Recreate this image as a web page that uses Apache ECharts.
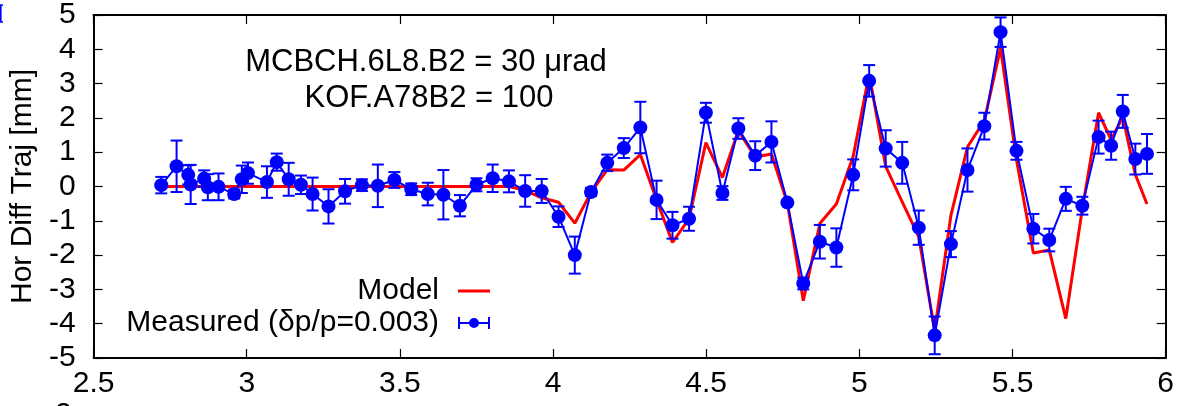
<!DOCTYPE html>
<html>
<head>
<meta charset="utf-8">
<script src="https://cdn.jsdelivr.net/npm/echarts@6/dist/echarts.min.js"></script>
<style>
html,body{margin:0;padding:0;background:#fff;}
#chart{width:1177px;height:406px;}
</style>
</head>
<body>
<div id="chart"></div>
<script>
// Positions along the line (x) in km
const posX = [2.721, 2.771, 2.809, 2.817, 2.861, 2.873, 2.908, 2.959, 2.984, 3.004,
  3.066, 3.098, 3.137, 3.177, 3.215, 3.267, 3.321, 3.376, 3.428, 3.482,
  3.537, 3.591, 3.642, 3.696, 3.750, 3.803, 3.856, 3.909, 3.963,
  4.018, 4.071, 4.124, 4.177, 4.231, 4.285, 4.338, 4.390, 4.444, 4.499, 4.553, 4.605, 4.660, 4.713, 4.765,
  4.817, 4.871, 4.925, 4.980, 5.032, 5.086, 5.140, 5.194, 5.246, 5.299, 5.353, 5.408, 5.461, 5.513,
  5.568, 5.620, 5.674, 5.728, 5.781, 5.822, 5.860, 5.901, 5.939];
// Measured horizontal difference trajectory [mm]
const measuredY = [0.04, 0.59, 0.34, 0.06, 0.23, -0.02, -0.01, -0.22, 0.21, 0.39,
  0.13, 0.71, 0.21, 0.05, -0.22, -0.58, -0.14, 0.04, 0.02, 0.19,
  -0.08, -0.22, -0.24, -0.56, 0.05, 0.24, 0.15, -0.13, -0.13,
  -0.88, -2.0, -0.16, 0.69, 1.12, 1.72, -0.39, -1.13, -0.94, 2.15, -0.19, 1.69, 0.9, 1.30, -0.47,
  -2.83, -1.61, -1.78, 0.34, 3.08, 1.11, 0.69, -1.2, -4.34, -1.68, 0.48, 1.76, 4.5, 1.04,
  -1.23, -1.56, -0.36, -0.56, 1.44, 1.19, 2.19, 0.80, 0.95];
// Measurement errors [mm]
const measuredErr = [0.24, 0.75, 0.28, 0.57, 0.24, 0.38, 0.39, 0.13, 0.4, 0.31,
  0.46, 0.25, 0.48, 0.27, 0.48, 0.5, 0.36, 0.17, 0.62, 0.23,
  0.17, 0.33, 0.72, 0.31, 0.19, 0.4, 0.32, 0.46, 0.35,
  0.3, 0.54, 0.12, 0.24, 0.29, 0.75, 0.56, 0.39, 0.35, 0.29, 0.2, 0.3, 0.42, 0.6, 0.06,
  0.17, 0.49, 0.56, 0.45, 0.46, 0.53, 0.61, 0.5, 0.55, 0.38, 0.63, 0.39, 0.43, 0.26,
  0.43, 0.33, 0.35, 0.26, 0.48, 0.41, 0.48, 0.45, 0.58];
// Model prediction [mm]
const modelY = [0, 0, 0, 0, 0, 0, 0, 0, 0, 0,
  0, 0, 0, 0, 0, 0, 0, 0, 0, 0,
  0, 0, 0, 0, 0, 0, 0, -0.11, -0.33,
  -0.46, -1.07, -0.17, 0.49, 0.48, 0.93, -0.39, -1.63, -0.94, 1.28, 0.26, 1.63, 0.86, 0.95, -0.48,
  -3.33, -1.08, -0.51, 0.88, 3.28, 0.59, -0.45, -1.47, -4.2, -0.84, 1.15, 1.92, 4.04, 0.78,
  -1.94, -1.85, -3.85, -0.65, 2.15, 1.36, 2.03, 0.35, -0.51];

const seriesNames = ['Model', 'Measured (\u03b4p/p=0.003)'];
const annotations = ['MCBCH.6L8.B2 = 30 \u03bcrad', 'KOF.A78B2 = 100'];
const yAxisName = 'Hor Diff Traj [mm]';

const FONT = 'Liberation Sans';
const FS = 30;
const BLUE = '#0000ff';
const RED = '#ff0000';

const chart = echarts.init(document.getElementById('chart'));

const modelData = posX.map((x, i) => [x, modelY[i]]);
const measData = posX.map((x, i) => [x, measuredY[i]]);
const errData = posX.map((x, i) => [x, measuredY[i] - measuredErr[i], measuredY[i] + measuredErr[i]]);

const axisLine = {show: true, onZero: false, lineStyle: {color: '#000', width: 2}};
const tick = {show: true, inside: true, length: 9, lineStyle: {color: '#000', width: 1.2}};
const lbl = {color: '#000', fontFamily: FONT, fontSize: FS};

chart.setOption({
  animation: false,
  backgroundColor: '#fff',
  grid: {left: 91, right: 9, top: 10, bottom: 48},
  xAxis: [
    {type: 'value', min: 2.5, max: 6, interval: 0.5, position: 'bottom',
     axisLine, axisTick: tick, splitLine: {show: false},
     axisLabel: Object.assign({margin: 11}, lbl)},
    {type: 'value', min: 2.5, max: 6, interval: 0.5, position: 'top',
     axisLine, axisTick: tick, splitLine: {show: false}, axisLabel: {show: false}}
  ],
  yAxis: [
    {type: 'value', min: -5, max: 5, interval: 1, position: 'left',
     axisLine, axisTick: tick, splitLine: {show: false},
     axisLabel: Object.assign({margin: 18}, lbl),
     name: yAxisName, nameLocation: 'middle', nameGap: 48, nameRotate: 90,
     nameTextStyle: {color: '#000', fontFamily: FONT, fontSize: FS}},
    {type: 'value', min: -5, max: 5, interval: 1, position: 'right',
     axisLine, axisTick: tick, splitLine: {show: false}, axisLabel: {show: false}}
  ],
  legend: {
    orient: 'vertical', align: 'right', right: 682, top: 271,
    itemGap: 2, itemWidth: 32, itemHeight: 12,
    textStyle: {color: '#000', fontFamily: FONT, fontSize: FS, padding: [0, 14, 0, 0]},
    data: [
      {name: seriesNames[0], icon: 'path://M0,4.5H32V7.5H0Z'},
      {name: seriesNames[1], icon: 'path://M0,0H2V5H30V0H32V12H30V7H2V12H0Z M16,1A5,5 0 1,1 16,11A5,5 0 1,1 16,1Z'}
    ]
  },
  graphic: [
    {type: 'text', x: 426, y: 62, z: 10,
     style: {text: annotations[0], font: '31px "Liberation Sans"', fill: '#000',
             textAlign: 'center', textVerticalAlign: 'middle'}},
    {type: 'text', x: 429, y: 98, z: 10,
     style: {text: annotations[1], font: '31px "Liberation Sans"', fill: '#000',
             textAlign: 'center', textVerticalAlign: 'middle'}},
    {type: 'polyline', z: 10, shape: {points: [[3, 5], [0.8, 5], [0.8, 22], [3, 22]]},
     style: {stroke: BLUE, lineWidth: 1.6, fill: null}},
    {type: 'text', x: 55, y: 400, z: 10,
     style: {text: '2', font: '30px "Liberation Sans"', fill: '#000'}}
  ],
  series: [
    {name: seriesNames[0], type: 'line', data: modelData, symbol: 'none',
     lineStyle: {color: RED, width: 3}, itemStyle: {color: RED}, z: 2},
    {name: seriesNames[1], type: 'custom', data: errData, z: 3,
     itemStyle: {color: BLUE},
     renderItem: function (params, api) {
       const x = api.value(0);
       const lo = api.coord([x, api.value(1)]);
       const hi = api.coord([x, api.value(2)]);
       const c = 6;
       const st = {stroke: BLUE, lineWidth: 2, fill: null};
       return {type: 'group', children: [
         {type: 'line', shape: {x1: lo[0], y1: lo[1], x2: hi[0], y2: hi[1]}, style: st},
         {type: 'line', shape: {x1: lo[0] - c, y1: lo[1], x2: lo[0] + c, y2: lo[1]}, style: st},
         {type: 'line', shape: {x1: hi[0] - c, y1: hi[1], x2: hi[0] + c, y2: hi[1]}, style: st}
       ]};
     }},
    {name: seriesNames[1], type: 'line', data: measData, symbol: 'circle', symbolSize: 14,
     lineStyle: {color: BLUE, width: 2}, itemStyle: {color: BLUE}, z: 4}
  ]
});
</script>
</body>
</html>
